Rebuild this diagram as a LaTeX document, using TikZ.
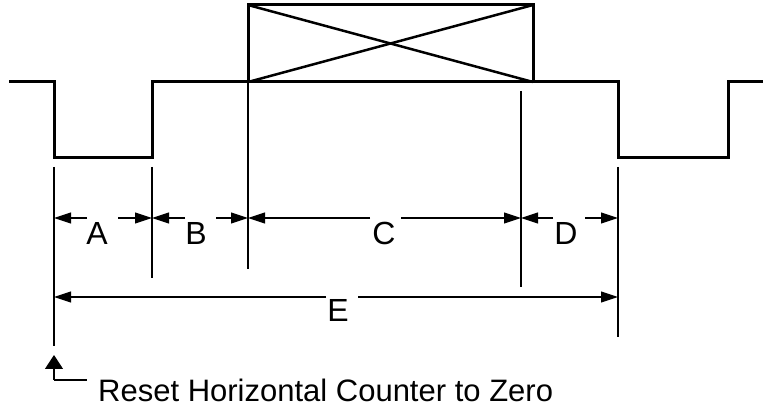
\documentclass[tikz,border=0pt]{standalone}
\usepackage{fontspec}
\setmainfont{Liberation Sans}
\usetikzlibrary{arrows.meta}
\begin{document}
\begin{tikzpicture}[x=1pt,y=-1pt,
  wave/.style={line width=3pt, line join=miter},
  thin/.style={line width=1.1pt},
  dimarrow/.style={line width=1.1pt, -{Triangle[length=17pt,width=11pt]}},
  lbl/.style={font=\fontsize{32}{36}\selectfont, anchor=base, inner sep=0pt},
  note/.style={font=\fontsize{31}{36}\selectfont, anchor=base west, inner sep=0pt}]
\useasboundingbox (0,0) rectangle (763,411);
% waveform
\draw[wave] (9,82) -- (54,82) -- (54,158) -- (152,158) -- (152,82) -- (618,82)
  -- (618,158) -- (728,158) -- (728,82) -- (763,82);
% box
\draw[wave] (248,5) rectangle (533,82);
\draw[line width=2.5pt] (248,5) -- (533,82);
\draw[line width=2.5pt] (248,82) -- (533,5);
% extension lines
\draw[thin] (54,167) -- (54,346);
\draw[thin] (152,167) -- (152,278);
\draw[thin] (248,82) -- (248,269);
\draw[thin] (521,91) -- (521,287);
\draw[thin] (618,167) -- (618,337);
% dimension A
\coordinate (a1) at (54,218); \coordinate (a2) at (152,218);
\draw[dimarrow] (87,218) -- (a1);
\draw[dimarrow] (118,218) -- (a2);
\node[lbl] (A) at (97,245) {A};
% B
\coordinate (b1) at (152,218); \coordinate (b2) at (248,218);
\draw[dimarrow] (185,218) -- (b1);
\draw[dimarrow] (216,218) -- (b2);
\node[lbl] (B) at (196,245) {B};
% C
\coordinate (c1) at (248,218); \coordinate (c2) at (521,218);
\draw[dimarrow] (370,218) -- (c1);
\draw[dimarrow] (401,218) -- (c2);
\node[lbl] (C) at (384,245) {C};
% D
\coordinate (d1) at (521,218); \coordinate (d2) at (618,218);
\draw[dimarrow] (553,218) -- (d1);
\draw[dimarrow] (585,218) -- (d2);
\node[lbl] (D) at (566,245) {D};
% E
\coordinate (e1) at (54,297); \coordinate (e2) at (618,297);
\draw[dimarrow] (326,297) -- (e1);
\draw[dimarrow] (358,297) -- (e2);
\node[lbl] (E) at (338,322) {E};
% reset marker
\coordinate (r0) at (54,380); \coordinate (r1) at (54,355); \coordinate (r2) at (87,380);
\draw[thin, -{Triangle[length=14pt,width=18pt]}] (r0) -- (r1);
\draw[thin] (r0) -- (r2);
\node[note] (reset) at (98,402) {Reset Horizontal Counter to Zero};
\end{tikzpicture}
\end{document}
